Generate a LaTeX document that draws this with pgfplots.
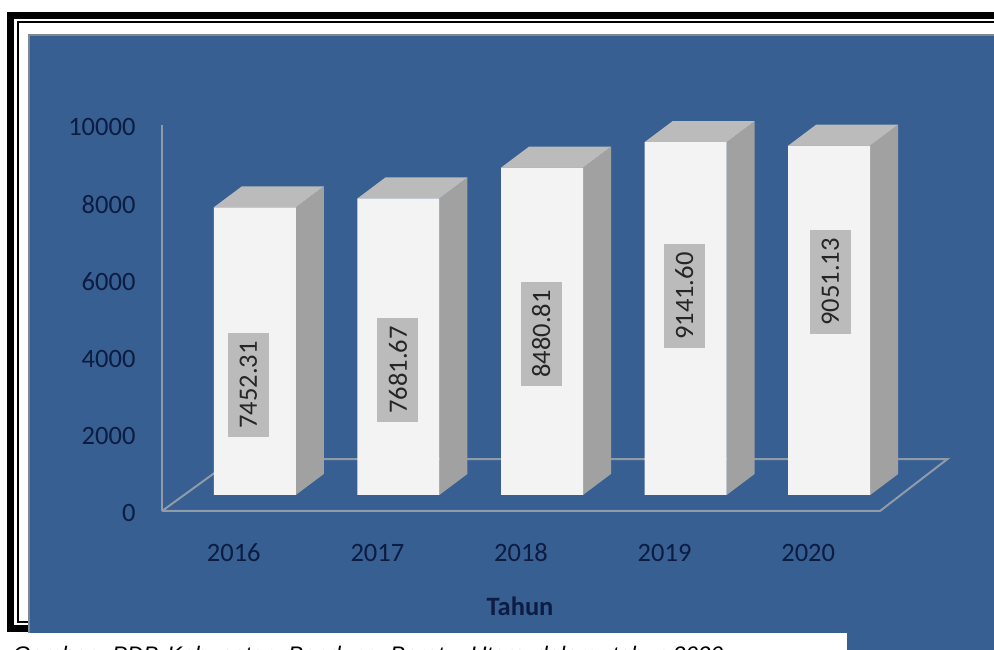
\documentclass[border=0pt]{standalone}
\usepackage{pgfplots}
\pgfplotsset{compat=1.18}
\usepackage{fontspec}
\setmainfont{Carlito}
\newfontfamily\capfont{Liberation Sans}
\definecolor{panel}{HTML}{375F91}
\definecolor{paneledge}{HTML}{7F8791}
\definecolor{ink}{HTML}{0C1C42}
\definecolor{floorline}{HTML}{8F9BA8}
\definecolor{front}{HTML}{F3F3F3}
\definecolor{topface}{HTML}{BBBBBB}
\definecolor{sideface}{HTML}{A1A1A1}
\definecolor{labelbox}{HTML}{BBBBBB}
\newcommand{\bigfont}{\fontsize{26.5}{30}\selectfont}
\begin{document}
\begin{tikzpicture}[x=1pt,y=1pt,
  capword/.style={anchor=base west,inner sep=0pt,font=\capfont\itshape\fontsize{22.5}{26}\selectfont},
  yearlabel/.style={ink,font=\bigfont,anchor=base},
  vallabel/.style={rotate=90,fill=labelbox,text=black!85,font=\bigfont,minimum width=104pt,minimum height=41pt,inner sep=0pt}]
\useasboundingbox (0,0) rectangle (994,650);
% page, double frame and panel (y is 650 minus the pixel row)
\fill[white] (0,0) rectangle (994,650);
\fill[black] (7,18) rectangle (994,638);
\fill[white] (14,25) rectangle (994,631);
\fill[black] (16.5,27) rectangle (994,629);
\fill[white] (18.5,29) rectangle (994,627);
\fill[panel] (29,0) rectangle (994,616);
\draw[paneledge,line width=2pt] (29,17) -- (29,615) -- (994,615);
\fill[white] (29,0) rectangle (847,17);
\node[capword] at (13,-13) {Gambar.};
\node[capword] at (112,-13) {PDB};
\node[capword] at (167,-13) {Kabupaten};
\node[capword] at (288,-13) {Bandung};
\node[capword] at (390,-13) {Barat};
\node[capword] at (470,-13) {Utara};
\node[capword] at (535,-13) {dalam};
\node[capword] at (612,-13) {tahun};
\node[capword] at (673,-13) {2020};

% axis with the scale, front edge of the floor at row 511
\begin{axis}[
  at={(162pt,139pt)},anchor=south west,
  scale only axis,width=718pt,height=386pt,
  xmin=-0.5,xmax=4.5,ymin=0,ymax=10000,
  axis x line=none,
  axis y line*=left,
  axis line style={floorline,line width=2pt,-},
  ytick={0,2000,4000,6000,8000,10000},
  scaled y ticks=false,
  major tick length=0pt,
  yticklabel style={ink,font=\bigfont,xshift=-23pt,yshift=-2pt,/pgf/number format/assume math mode=true},
  /pgf/number format/1000 sep={},
  clip=false]
\addplot[floorline,line width=2pt] coordinates {(-0.5,0) (4.5,0) (4.97,1347) (0,1347) (-0.5,0)};
\node[yearlabel] at (axis cs:0,-1321) {2016};
\node[yearlabel] at (axis cs:1,-1321) {2017};
\node[yearlabel] at (axis cs:2,-1321) {2018};
\node[yearlabel] at (axis cs:3,-1321) {2019};
\node[yearlabel] at (axis cs:4,-1321) {2020};
\node[ink,font=\bigfont\bfseries] at (axis cs:1.993,-2470) {Tahun};
\end{axis}

% bars, their floor sits at row 495 and 21 px to the right
\begin{axis}[
  at={(183pt,155pt)},anchor=south west,
  scale only axis,width=718pt,height=386pt,
  xmin=-0.5,xmax=4.5,ymin=0,ymax=10000,
  axis lines=none,clip=false]
% side faces
\addplot[fill=sideface,draw=none] coordinates {(0.2855,0) (0.2855,7452.31) (0.4805,7996.31) (0.4805,544)} -- cycle;
\addplot[fill=sideface,draw=none] coordinates {(1.2855,0) (1.2855,7681.67) (1.4805,8225.67) (1.4805,544)} -- cycle;
\addplot[fill=sideface,draw=none] coordinates {(2.2855,0) (2.2855,8480.81) (2.4805,9024.81) (2.4805,544)} -- cycle;
\addplot[fill=sideface,draw=none] coordinates {(3.2855,0) (3.2855,9141.60) (3.4805,9685.60) (3.4805,544)} -- cycle;
\addplot[fill=sideface,draw=none] coordinates {(4.2855,0) (4.2855,9051.13) (4.4805,9595.13) (4.4805,544)} -- cycle;
% top faces
\addplot[fill=topface,draw=none] coordinates {(-0.2855,7452.31) (0.2855,7452.31) (0.4805,7996.31) (-0.0905,7996.31)} -- cycle;
\addplot[fill=topface,draw=none] coordinates {(0.7145,7681.67) (1.2855,7681.67) (1.4805,8225.67) (0.9095,8225.67)} -- cycle;
\addplot[fill=topface,draw=none] coordinates {(1.7145,8480.81) (2.2855,8480.81) (2.4805,9024.81) (1.9095,9024.81)} -- cycle;
\addplot[fill=topface,draw=none] coordinates {(2.7145,9141.60) (3.2855,9141.60) (3.4805,9685.60) (2.9095,9685.60)} -- cycle;
\addplot[fill=topface,draw=none] coordinates {(3.7145,9051.13) (4.2855,9051.13) (4.4805,9595.13) (3.9095,9595.13)} -- cycle;
% front faces
\addplot[ybar,bar width=82pt,fill=front,draw=none] coordinates {(0,7452.31) (1,7681.67) (2,8480.81) (3,9141.60) (4,9051.13)};
\node[vallabel] at (axis cs:-0.045,2850) {7452.31};
\node[vallabel] at (axis cs:0.996,3240) {7681.67};
\node[vallabel] at (axis cs:1.995,4170) {8480.81};
\node[vallabel] at (axis cs:2.991,5150) {9141.60};
\node[vallabel] at (axis cs:4.008,5520) {9051.13};
\end{axis}
\end{tikzpicture}
\end{document}
